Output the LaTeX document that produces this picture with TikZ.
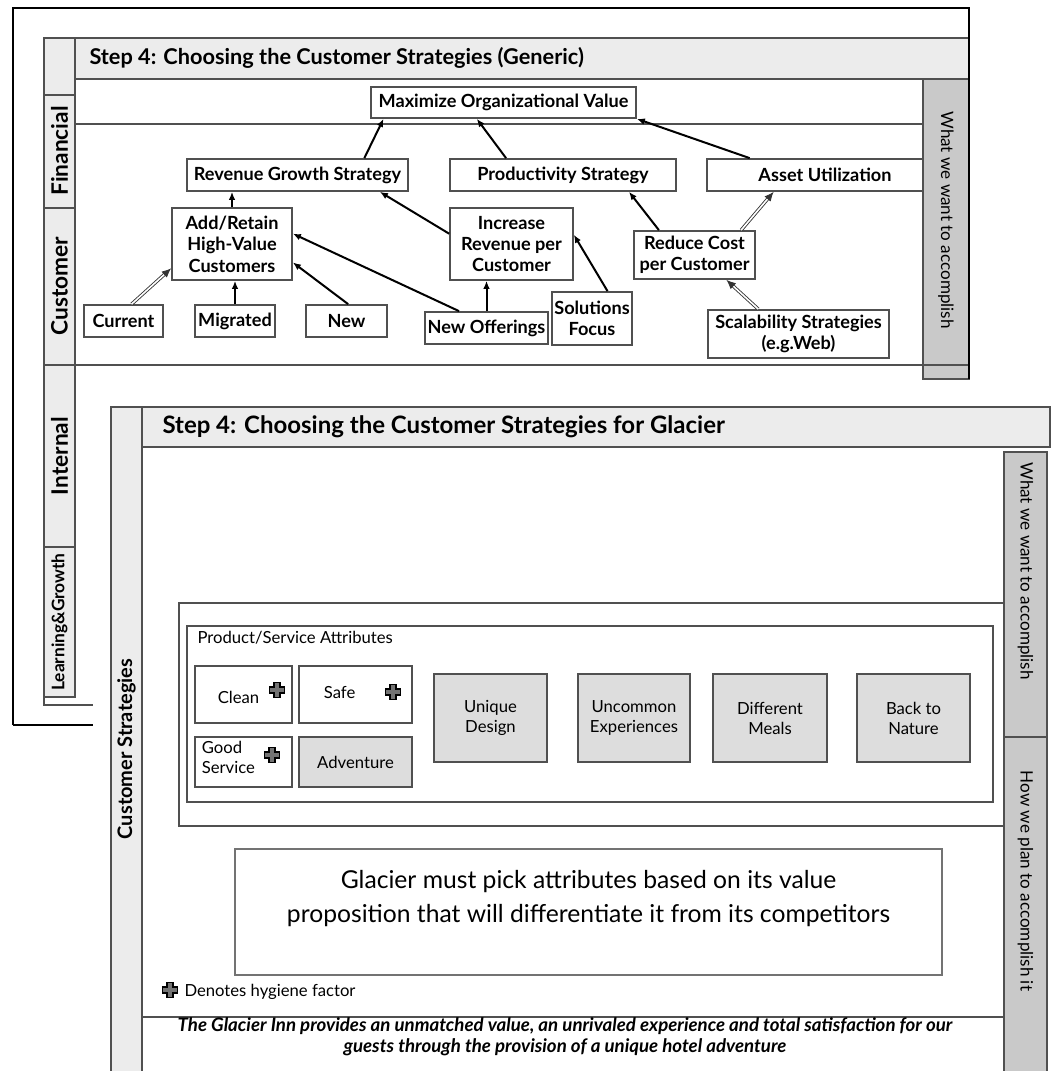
\documentclass[tikz,border=0pt]{standalone}
\usepackage{fontspec}
\setmainfont{Lato}
\usetikzlibrary{arrows.meta,calc}

\definecolor{paneGray}{RGB}{236,236,236}
\definecolor{tabGray}{RGB}{201,201,201}
\definecolor{attrGray}{RGB}{221,221,221}
\definecolor{edgeGray}{RGB}{80,80,80}

\tikzset{every picture/.style={line width=0.75pt}}
\tikzset{
  sz/.style 2 args={minimum width=#1*0.75pt, minimum height=#2*0.75pt},
  goal/.style={draw=edgeGray, line width=1.3pt, fill=white, align=center, inner sep=0.75pt,
    font=\fontsize{13.6}{16}\selectfont\bfseries},
  attr/.style={draw=edgeGray, line width=1pt, fill=white, align=center, inner sep=0.75pt,
    font=\fontsize{12.5}{15}\selectfont},
  attrtxt/.style={inner sep=0.75pt, align=left, font=\fontsize{12.5}{15}\selectfont},
  lane/.style={inner sep=0.75pt, font=\fontsize{17}{19}\selectfont\bfseries},
  tabtxt/.style={inner sep=0.75pt, font=\fontsize{12.8}{15}\selectfont},
  arr/.style={line width=1.5pt, -{Latex[length=6pt,width=5pt]}},
  dblarr/.style={draw=black!80, double=white, double distance=1.2pt, line width=0.65pt, -{Latex[length=7pt,width=6pt]}},
  hygiene/.pic={
    \draw [fill=black!55, line width=0.8pt] (-3,-7.5) -- (3,-7.5) -- (3,-3) -- (7.5,-3) -- (7.5,3) -- (3,3) -- (3,7.5) -- (-3,7.5) -- (-3,3) -- (-7.5,3) -- (-7.5,-3) -- (-3,-3) -- cycle ;
  }
}

\begin{document}
\begin{tikzpicture}[x=0.75pt,y=0.75pt,yscale=-1,xscale=1]
\useasboundingbox (0,0) rectangle (1054,1071);

%%% Generic panel (behind)
%Shape: Rectangle [id:hdrgen]
\draw [draw=edgeGray, fill=paneGray, line width=1pt] (75,38) rectangle (969,79) ;
%Shape: Rectangle [id:lanes]
\draw [draw=edgeGray, fill=paneGray, line width=1pt] (44,38) rectangle (75,697) ;
%Straight Lines [id:lanelines]
\draw [edgeGray, line width=1pt] (44,95) -- (75,95) ;
\draw [edgeGray, line width=1pt] (44,208) -- (75,208) ;
\draw [edgeGray, line width=1pt] (44,547) -- (75,547) ;
\draw [edgeGray, line width=1pt] (75,124) -- (923,124) ;
\draw [edgeGray, line width=1pt] (44,365) -- (969,365) ;
\draw [edgeGray, line width=1pt] (44,697) -- (44,705) -- (93,705) ;
%Shape: Rectangle [id:tabgen]
\draw [draw=edgeGray, fill=tabGray, line width=1pt] (923,79) rectangle (969,379) ;
\draw [edgeGray, line width=1pt] (923,365) -- (969,365) ;
%Straight Lines [id:framegen]
\draw [line width=1.3pt] (13,725) -- (13,8) -- (969,8) -- (969,379) ;
\draw [line width=2.2pt] (13,725) -- (93,725) ;

% Text Node
\draw (88,58) node [anchor=west, inner sep=0.75pt, font=\fontsize{16.3}{18}\selectfont\bfseries] (ttlgen) {Step 4: Choosing the Customer Strategies (Generic)};
% Text Node
\draw (59.5,151) node [lane, rotate=90] (lfin) {Financial};
% Text Node
\draw (59.5,286) node [lane, rotate=90] (lcus) {Customer};
% Text Node
\draw (59.5,456) node [lane, rotate=90] (lint) {Internal};
% Text Node
\draw (59.5,622) node [lane, rotate=90, font=\fontsize{13}{15}\selectfont\bfseries] (llg) {Learning\&Growth};
% Text Node
\draw (946,220) node [tabtxt, rotate=-90] (wantgen) {What we want to accomplish};

%Shape: Boxes
\draw (503.5,102.5) node [goal, sz={265}{31}] (maxv) {Maximize Organizational Value};
\draw (297.5,175) node [goal, sz={221}{32}] (rgs) {Revenue Growth Strategy};
\draw (563,175) node [goal, sz={226}{32}] (prod) {Productivity Strategy};
\draw (815,175) node [goal, sz={216}{32}] (asset) {\hspace*{15pt}Asset Utilization};
\draw (232,244) node [goal, sz={120}{72}] (addret) {Add/Retain\\High-Value\\Customers};
\draw (511.5,244) node [goal, sz={123}{72}] (incr) {Increase\\Revenue per\\Customer};
\draw (694.5,255) node [goal, sz={121}{48}] (redc) {Reduce Cost\\per Customer};
\draw (123.5,321) node [goal, sz={79}{32}] (cur) {Current};
\draw (235,321) node [goal, sz={80}{32}] (mig) {Migrated};
\draw (346.5,321) node [goal, sz={81}{32}] (newc) {New};
\draw (486.5,328) node [goal, sz={123}{32}] (newoff) {New Offerings};
\draw (592,318.5) node [goal, sz={80}{53}] (sol) {Solutions\\Focus};
\draw (798.5,334) node [goal, sz={181}{48}] (scal) {Scalability Strategies\\(e.g.Web)};

%Straight Lines [id:arrows]
\draw [arr] ($(rgs.north west)!0.8!(rgs.north east)$) -- ($(maxv.south west)!0.05!(maxv.south east)$) ;
\draw [arr] ($(prod.north west)!0.25!(prod.north east)$) -- ($(maxv.south west)!0.4!(maxv.south east)$) ;
\draw [arr] ($(asset.north west)!0.2!(asset.north east)$) -- (maxv.south east) ;
\draw [arr] (addret.north) -- (addret.north |- rgs.south) ;
\draw [arr] ($(incr.north west)!0.36!(incr.south west)$) -- ($(rgs.south west)!0.87!(rgs.south east)$) ;
\draw [dblarr] ($(cur.north west)!0.6!(cur.north east)$) -- ($(addret.north west)!0.83!(addret.south west)$) ;
\draw [arr] (mig.north) -- (mig.north |- addret.south) ;
\draw [arr] ($(newc.north west)!0.52!(newc.north east)$) -- ($(addret.north east)!0.75!(addret.south east)$) ;
\draw [arr] ($(newoff.north west)!0.28!(newoff.north east)$) -- ($(addret.north east)!0.36!(addret.south east)$) ;
\draw [arr] (newoff.north) -- (newoff.north |- incr.south) ;
\draw [arr] ($(sol.north west)!0.69!(sol.north east)$) -- ($(incr.north east)!0.375!(incr.south east)$) ;
\draw [arr] ($(redc.north west)!0.21!(redc.north east)$) -- ($(prod.south west)!0.79!(prod.south east)$) ;
\draw [dblarr] ($(redc.north west)!0.88!(redc.north east)$) -- ($(asset.south west)!0.31!(asset.south east)$) ;
\draw [dblarr] ($(scal.north west)!0.28!(scal.north east)$) -- ($(redc.south west)!0.76!(redc.south east)$) ;

%%% Glacier panel (front)
%Shape: Rectangle [id:cover]
\fill [white] (111,407) rectangle (1060,1080) ;
%Shape: Rectangle [id:lanegla]
\draw [draw=edgeGray, fill=paneGray, line width=1pt] (111,407) rectangle (142,1080) ;
%Shape: Rectangle [id:hdrgla]
\draw [draw=edgeGray, fill=paneGray, line width=1pt] (142,407) rectangle (1050,447) ;
%Shape: Rectangle [id:tabgla]
\draw [draw=edgeGray, fill=tabGray, line width=1pt] (1004,452) rectangle (1047,1080) ;
\draw [edgeGray, line width=1pt] (1004,737) -- (1047,737) ;
%Straight Lines [id:attrframe]
\draw [edgeGray, line width=1pt] (1004,603) -- (179,603) -- (179,826) -- (1004,826) ;
%Shape: Rectangle [id:attrinner]
\draw [edgeGray, line width=1pt] (187,626) rectangle (993,802) ;
%Straight Lines [id:missionline]
\draw [edgeGray, line width=1pt] (142,1017) -- (1004,1017) ;

% Text Node
\draw (161,427) node [anchor=west, inner sep=0.75pt, font=\fontsize{18}{20}\selectfont\bfseries] (ttlgla) {Step 4: Choosing the Customer Strategies for Glacier};
% Text Node
\draw (126.5,749) node [lane, rotate=90, font=\fontsize{15}{17}\selectfont\bfseries] (lcs) {Customer Strategies};
% Text Node
\draw (1025.5,571) node [tabtxt, rotate=-90] (wantgla) {What we want to accomplish};
% Text Node
\draw (1025.5,881) node [tabtxt, rotate=-90] (howgla) {How we plan to accomplish it};
% Text Node
\draw (196,638) node [attrtxt, anchor=west] (psa) {Product/Service Attributes};

%Shape: Attribute boxes
\draw (243.5,694.5) node [attr, sz={97}{57}] (clean) {};
\draw ($(clean.west)+(22,3)$) node [attrtxt, anchor=west] (cleantxt) {Clean};
\pic at ($(clean.center)+(33.5,-4.5)$) {hygiene};
\draw (355.5,694.5) node [attr, sz={113}{57}] (safe) {};
\draw ($(safe.west)+(24,-2.5)$) node [attrtxt, anchor=west] (safetxt) {Safe};
\pic at ($(safe.center)+(37.5,-2.5)$) {hygiene};
\draw (243.5,762) node [attr, sz={97}{50}] (good) {};
\draw ($(good.west)+(6,-4.5)$) node [attrtxt, anchor=west] (goodtxt) {Good\\Service};
\pic at ($(good.center)+(28.5,-7)$) {hygiene};
\draw (355.5,762) node [attr, fill=attrGray, sz={113}{50}] (adv) {Adventure};
\draw (490.5,718) node [attr, fill=attrGray, sz={113}{88}] (uniq) {Unique\\Design};
\draw (634,718) node [attr, fill=attrGray, sz={112}{88}] (uncom) {Uncommon\\Experiences};
\draw (770,718) node [attr, fill=attrGray, sz={114}{88}] (diff) {Different\\Meals};
\draw (913.5,718) node [attr, fill=attrGray, sz={113}{88}] (back) {Back to\\Nature};

%Shape: Rectangle [id:glacierbox]
\draw (588.5,912) node [attr, draw=black!55, sz={707}{126}] (glac) {};
% Text Node
\draw ($(glac.center)+(0,-13.5)$) node [inner sep=0.75pt, align=center, font=\fontsize{18.5}{25}\selectfont] (glactxt) {Glacier must pick attributes based on its value\\proposition that will differentiate it from its competitors};

% Text Node
\pic at (170,990) {hygiene};
\draw (183,992) node [attrtxt, anchor=west] (hyg) {Denotes hygiene factor};
% Text Node
\draw (565,1037) node [inner sep=0.75pt, align=center, font=\fontsize{14}{15.5}\selectfont\bfseries\itshape] (mission) {The Glacier Inn provides an unmatched value, an unrivaled experience and total satisfaction for our\\guests through the provision of a unique hotel adventure};

\end{tikzpicture}
\end{document}
